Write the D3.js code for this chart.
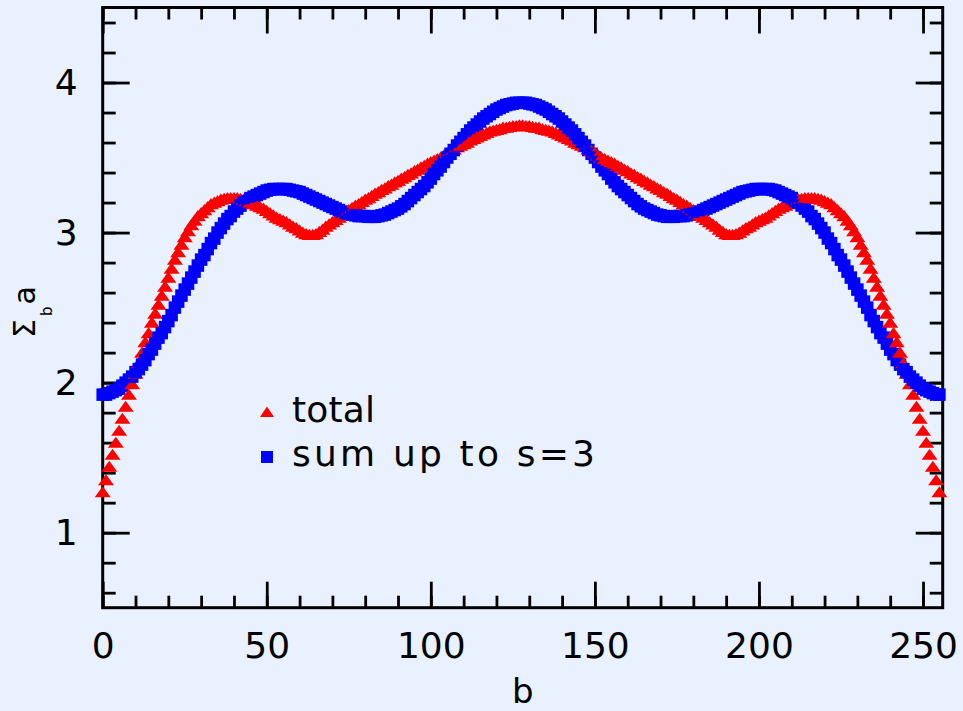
<!DOCTYPE html>
<html>
<head>
<meta charset="utf-8">
<script src="https://cdn.jsdelivr.net/npm/d3@7"></script>
<style>
  html, body { margin: 0; padding: 0; background: #e8f1fd; }
  svg { display: block; font-family: "DejaVu Sans", sans-serif; }
  .axis text { font-size: 36px; fill: #000; }
  .axis line { stroke: #000; stroke-width: 2.8; }
</style>
</head>
<body>
<div id="plot"></div>
<script>
// total (red triangles), b = 0..255
const totalValues = [
  1.27,1.35,1.44,1.52,1.60,1.68,1.76,1.84,1.92,1.99,
  2.06,2.13,2.20,2.27,2.33,2.40,2.46,2.52,2.58,2.64,
  2.70,2.76,2.82,2.87,2.92,2.97,3.01,3.05,3.08,3.11,
  3.13,3.15,3.17,3.19,3.20,3.21,3.22,3.225,3.23,3.23,
  3.23,3.23,3.225,3.22,3.21,3.20,3.19,3.18,3.17,3.16,
  3.145,3.13,3.115,3.10,3.09,3.08,3.07,3.055,3.04,3.03,
  3.015,3.00,2.99,2.985,2.985,2.99,3.005,3.02,3.04,3.055,
  3.07,3.085,3.10,3.115,3.13,3.15,3.165,3.18,3.19,3.205,
  3.22,3.23,3.245,3.26,3.27,3.285,3.295,3.31,3.32,3.335,
  3.345,3.36,3.37,3.385,3.395,3.41,3.42,3.435,3.445,3.46,
  3.47,3.48,3.49,3.50,3.515,3.53,3.545,3.555,3.57,3.58,
  3.59,3.60,3.615,3.625,3.635,3.645,3.655,3.665,3.675,3.68,
  3.685,3.69,3.70,3.70,3.705,3.71,3.71,3.715,
  3.715,3.71,3.71,3.705,3.70,3.70,3.69,3.685,
  3.68,3.675,3.665,3.655,3.645,3.635,3.625,3.615,3.60,3.59,
  3.58,3.57,3.555,3.545,3.53,3.515,3.50,3.49,3.48,3.47,
  3.46,3.445,3.435,3.42,3.41,3.395,3.385,3.37,3.36,3.345,
  3.335,3.32,3.31,3.295,3.285,3.27,3.26,3.245,3.23,3.22,
  3.205,3.19,3.18,3.165,3.15,3.13,3.115,3.10,3.085,3.07,
  3.055,3.04,3.02,3.005,2.99,2.985,2.985,2.99,3.00,3.015,
  3.03,3.04,3.055,3.07,3.08,3.09,3.10,3.115,3.13,3.145,
  3.16,3.17,3.18,3.19,3.20,3.21,3.22,3.225,3.23,3.23,
  3.23,3.23,3.225,3.22,3.21,3.20,3.19,3.17,3.15,3.13,
  3.11,3.08,3.05,3.01,2.97,2.92,2.87,2.82,2.76,2.70,
  2.64,2.58,2.52,2.46,2.40,2.33,2.27,2.20,2.13,2.06,
  1.99,1.92,1.84,1.76,1.68,1.60,1.52,1.44,1.35,1.27
];

// sum up to s=3 (blue squares), b = 0..255
const sumS3Values = [
  1.92,1.92,1.93,1.94,1.95,1.96,1.98,2.00,2.02,2.04,
  2.07,2.09,2.12,2.15,2.19,2.22,2.26,2.30,2.33,2.37,
  2.41,2.45,2.50,2.54,2.58,2.62,2.66,2.70,2.74,2.78,
  2.82,2.85,2.89,2.93,2.96,3.00,3.03,3.06,3.09,3.11,
  3.14,3.16,3.18,3.20,3.21,3.23,3.24,3.25,3.26,3.27,
  3.28,3.285,3.29,3.29,3.29,3.29,3.29,3.285,3.28,3.275,
  3.27,3.26,3.25,3.24,3.23,3.22,3.21,3.20,3.19,3.18,
  3.17,3.16,3.15,3.14,3.13,3.125,3.12,3.115,3.11,3.11,
  3.11,3.105,3.105,3.105,3.11,3.115,3.12,3.13,3.14,3.15,
  3.16,3.175,3.19,3.21,3.23,3.25,3.27,3.29,3.31,3.335,
  3.36,3.39,3.415,3.44,3.47,3.50,3.525,3.55,3.58,3.605,
  3.63,3.655,3.68,3.70,3.72,3.74,3.76,3.775,3.79,3.805,
  3.82,3.83,3.84,3.85,3.855,3.86,3.865,3.865,
  3.865,3.865,3.86,3.855,3.85,3.84,3.83,3.82,
  3.805,3.79,3.775,3.76,3.74,3.72,3.70,3.68,3.655,3.63,
  3.605,3.58,3.55,3.525,3.50,3.47,3.44,3.415,3.39,3.36,
  3.335,3.31,3.29,3.27,3.25,3.23,3.21,3.19,3.175,3.16,
  3.15,3.14,3.13,3.12,3.115,3.11,3.105,3.105,3.105,3.11,
  3.11,3.11,3.115,3.12,3.125,3.13,3.14,3.15,3.16,3.17,
  3.18,3.19,3.20,3.21,3.22,3.23,3.24,3.25,3.26,3.27,
  3.275,3.28,3.285,3.29,3.29,3.29,3.29,3.29,3.285,3.28,
  3.27,3.26,3.25,3.24,3.23,3.21,3.20,3.18,3.16,3.14,
  3.11,3.09,3.06,3.03,3.00,2.96,2.93,2.89,2.85,2.82,
  2.78,2.74,2.70,2.66,2.62,2.58,2.54,2.50,2.45,2.41,
  2.37,2.33,2.30,2.26,2.22,2.19,2.15,2.12,2.09,2.07,
  2.04,2.02,2.00,1.98,1.96,1.95,1.94,1.93,1.92,1.92
];

const xMajorTicks = [0, 50, 100, 150, 200, 250];
const xMinorTicks = d3.range(0, 257, 10);
const yMajorTicks = [1, 2, 3, 4];
const yMinorTicks = d3.range(0.6, 4.5, 0.2);
const legendLabels = ['total', 'sum up to s=3'];
const legendWidths = [83, 303];

const width = 963, height = 711;
const plotLeft = 102.7, plotRight = 942.7, plotTop = 7.5, plotBottom = 607.7;

const svg = d3.select('#plot').append('svg')
    .attr('width', width)
    .attr('height', height);

svg.append('rect')
    .attr('width', width)
    .attr('height', height)
    .attr('fill', '#e8f1fd');

const x = d3.scaleLinear().domain([0, 256]).range([plotLeft, plotRight]);
const y = d3.scaleLinear().domain([0.5, 4.5]).range([plotBottom, plotTop]);

// axes: ticks point inward on all four sides
function addAxis(axisFn, transform, ticks, size, labels) {
    const g = svg.append('g')
        .attr('class', 'axis')
        .attr('transform', transform)
        .call(axisFn
            .tickValues(ticks)
            .tickSizeInner(-size)
            .tickSizeOuter(0)
            .tickPadding(25)
            .tickFormat(labels ? d3.format('d') : () => ''));
    g.select('.domain').remove();
    g.selectAll('text').attr('font-family', '"DejaVu Sans", sans-serif');
    return g;
}

addAxis(d3.axisBottom(x), `translate(0,${plotBottom})`, xMinorTicks, 12, false);
addAxis(d3.axisBottom(x), `translate(0,${plotBottom})`, xMajorTicks, 26, true);
addAxis(d3.axisTop(x), `translate(0,${plotTop})`, xMinorTicks, 12, false);
addAxis(d3.axisTop(x), `translate(0,${plotTop})`, xMajorTicks, 26, false);
addAxis(d3.axisLeft(y), `translate(${plotLeft},0)`, yMinorTicks, 13, false);
addAxis(d3.axisLeft(y), `translate(${plotLeft},0)`, yMajorTicks, 27, true);
addAxis(d3.axisRight(y), `translate(${plotRight},0)`, yMinorTicks, 13, false);
addAxis(d3.axisRight(y), `translate(${plotRight},0)`, yMajorTicks, 27, false);

svg.append('rect')
    .attr('x', plotLeft)
    .attr('y', plotTop)
    .attr('width', plotRight - plotLeft)
    .attr('height', plotBottom - plotTop)
    .attr('fill', 'none')
    .attr('stroke', '#000')
    .attr('stroke-width', 3);

// axis titles
svg.append('text')
    .attr('x', (plotLeft + plotRight) / 2)
    .attr('y', 703)
    .attr('text-anchor', 'middle')
    .attr('font-size', '34px')
    .text('b');

const yTitle = svg.append('text')
    .attr('transform', 'translate(35,338) rotate(-90)')
    .attr('font-size', '30px');
yTitle.append('tspan').text('Σ');
yTitle.append('tspan').attr('dx', 3).attr('dy', 17).attr('font-size', '15px').text('b');
yTitle.append('tspan').attr('dx', 2).attr('dy', -17).text('a');

// markers drawn point by point, red then blue
const triPath = 'M-8,5.2L8,5.2L0,-6Z';
const sq = 12.5;
const points = d3.range(totalValues.length).flatMap(i => [
    {kind: 'total', b: i, v: totalValues[i]},
    {kind: 'sum', b: i, v: sumS3Values[i]}
]);

const markers = svg.append('g');
points.forEach(p => {
    if (p.kind === 'total') {
        markers.append('path')
            .attr('d', triPath)
            .attr('transform', `translate(${x(p.b)},${y(p.v)})`)
            .attr('fill', '#ff0000');
    } else {
        markers.append('rect')
            .attr('x', x(p.b) - sq / 2)
            .attr('y', y(p.v) - sq / 2)
            .attr('width', sq)
            .attr('height', sq)
            .attr('fill', '#0000ff');
    }
});

// legend
const legend = svg.append('g');
legend.append('path')
    .attr('d', 'M-7,5L7,5L0,-5.5Z')
    .attr('transform', 'translate(267,412)')
    .attr('fill', '#ff0000');
legend.append('rect')
    .attr('x', 261).attr('y', 451)
    .attr('width', 12).attr('height', 12)
    .attr('fill', '#0000ff');
legend.selectAll('text.label')
    .data(legendLabels)
    .enter()
    .append('text')
    .attr('class', 'label')
    .attr('x', 292)
    .attr('y', (d, i) => 422 + i * 44)
    .attr('font-size', '36px')
    .attr('textLength', (d, i) => legendWidths[i])
    .attr('lengthAdjust', 'spacing')
    .text(d => d);
</script>
</body>
</html>
